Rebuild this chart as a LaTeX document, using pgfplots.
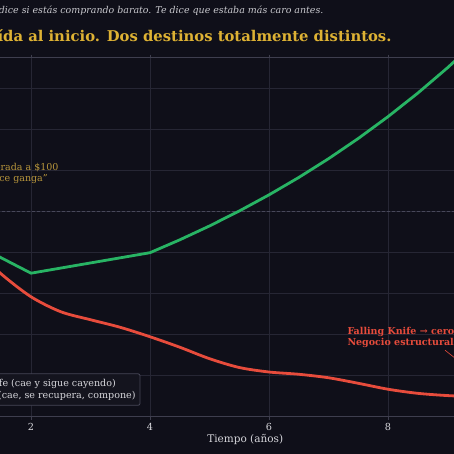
\documentclass[border=0pt]{standalone}
\usepackage{fontspec}
\setmainfont{DejaVu Serif}
\usepackage{pgfplots}
\pgfplotsset{compat=1.18}

\definecolor{bgc}{RGB}{15,15,25}
\definecolor{gridc}{RGB}{38,38,52}
\definecolor{spinec}{RGB}{62,62,78}
\definecolor{dashc}{RGB}{72,72,90}
\definecolor{verde}{RGB}{40,180,100}
\definecolor{rojo}{RGB}{231,76,60}
\definecolor{oro}{RGB}{222,178,52}
\definecolor{orosuave}{RGB}{184,150,60}
\definecolor{subc}{RGB}{200,200,205}
\definecolor{txtc}{RGB}{215,215,220}
\definecolor{legc}{RGB}{70,70,86}
\definecolor{legf}{RGB}{20,20,30}

\begin{document}
\begin{tikzpicture}
\path[use as bounding box] (0,0) rectangle (454pt,454pt);
\clip (0,0) rectangle (454pt,454pt);
\fill[bgc] (0,0) rectangle (454pt,454pt);

\begin{axis}[
    at={(-88pt,37.3pt)}, anchor=south west,
    x=59.5pt, y=2.05pt,
    xmin=0, xmax=11.2, ymin=0, ymax=175.2,
    axis line style={spinec, line width=1.2pt},
    grid=major,
    major grid style={gridc, line width=0.7pt},
    xtick={0,2,...,10}, ytick={0,20,...,160},
    tick align=outside, major tick length=3pt,
    tick style={spinec, line width=0.8pt},
    ticklabel style={font=\fontsize{9.7}{11}\selectfont, text=txtc},
    /pgf/number format/assume math mode=true,
    xlabel={Tiempo (años)},
    xlabel style={at={(axis description cs:0.5,0)}, anchor=base, yshift=-25.8pt,
        font=\fontsize{10.5}{12}\selectfont, text=txtc},
    legend cell align=left,
    legend style={at={(0.3428,0.0306)}, anchor=south east,
        draw=legc, fill=legf, rounded corners=2pt, line width=0.8pt,
        text=txtc, font=\fontsize{9.55}{11}\selectfont,
        inner xsep=2.5pt, inner ysep=3pt, row sep=0pt},
]
\addplot[forget plot, dashc, line width=0.9pt, dash pattern=on 3pt off 2pt]
    coordinates {(0,100) (11.2,100)};

\addplot[rojo, line width=2.8pt, smooth, tension=0.5] coordinates {
    (0,100) (0.5,93) (1,83) (1.5,69.6) (2,58.5) (2.5,51.2) (3,47.3)
    (3.5,43.6) (4,39.0) (4.5,33.9) (5,28.3) (5.5,24.0) (6,21.8)
    (6.5,20.7) (7,19.0) (7.5,16.3) (8,13.4) (8.5,11.4) (9,10.3)
    (9.5,9.7) (10,9.4)
};
\addlegendentry{Falling Knife (cae y sigue cayendo)}

\addplot[verde, line width=2.8pt, line join=round] coordinates {
    (0,100) (2,70) (4,80) (4.5,86.27) (5,93.04) (5.5,100.34) (6,108.21)
    (6.5,116.69) (7,125.84) (7.5,135.71) (8,146.36) (8.5,157.83)
    (9,170.21) (9.5,183.56) (10,197.96)
};
\addlegendentry{Value real (cae, se recupera, compone)}

\draw[rojo, line width=0.6pt, -stealth] (axis cs:8.96,32.4) -- (axis cs:10,8.5);
\end{axis}

% titulos
\node[anchor=base east, text=subc, font=\itshape\fontsize{9.45}{11}\selectfont]
    at (327pt,440pt) {El precio no te dice si estás comprando barato. Te dice que estaba más caro antes.};
\node[anchor=base east, text=oro, font=\bfseries\fontsize{14.8}{17}\selectfont]
    at (395pt,412.5pt) {Misma caída al inicio. Dos destinos totalmente distintos.};

% anotaciones
\node[anchor=base east, inner sep=0pt, text=orosuave, font=\fontsize{9.5}{11}\selectfont]
    (g1) at (58.7pt,283.3pt) {Comprada a \$100};
\node[anchor=base west, inner sep=0pt, text=orosuave, font=\fontsize{9.5}{11}\selectfont]
    at ([yshift=-11pt]g1.base west) {"parece ganga"};
\node[anchor=base west, inner sep=0pt, text=rojo, font=\bfseries\fontsize{9.5}{11}\selectfont]
    at (347.3pt,119.7pt) {Falling Knife → cero};
\node[anchor=base west, inner sep=0pt, text=rojo, font=\bfseries\fontsize{9.5}{11}\selectfont]
    at (347.3pt,108.3pt) {Negocio estructuralmente roto};
\end{tikzpicture}
\end{document}
